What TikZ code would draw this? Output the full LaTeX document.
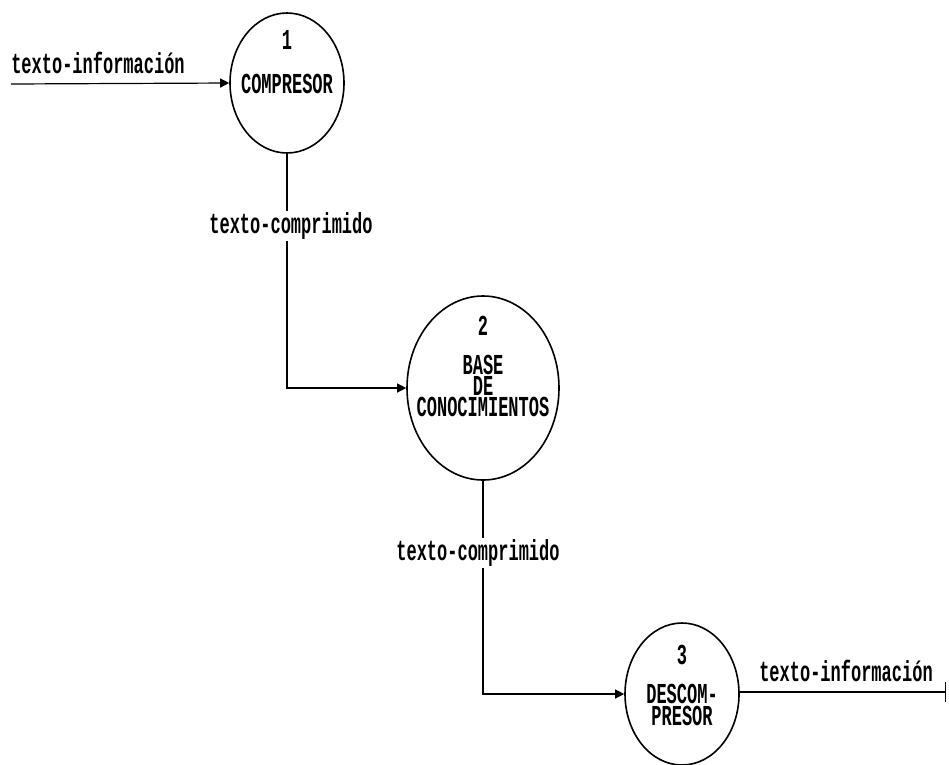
\documentclass[tikz,border=0pt]{standalone}
\usepackage{fontspec}
\setmainfont{Liberation Mono}
\usetikzlibrary{shapes.geometric,arrows.meta}
\tikzset{
  proc/.style={ellipse, draw, line width=1.6pt, inner sep=0pt},
  lab/.style={font=\bfseries\fontsize{17}{11.2}\selectfont, inner sep=1pt, align=center, transform shape},
  flow/.style={line width=1.2pt, -{Triangle[length=9pt,width=9pt]}},
}
% a text stretched vertically: #1 options, #2 name, #3 position, #4 text
\newcommand{\tlabel}[4][]{%
  \begin{scope}[shift={#3}, yscale=1.7]
    \node[lab,#1] (#2) at (0,0) {#4};
  \end{scope}}
\begin{document}
\begin{tikzpicture}[x=1pt,y=-1pt]
\useasboundingbox[fill=white] (0,0) rectangle (949,764);
% processes
\node[proc, minimum width=114pt, minimum height=140pt] (c1) at (287,83) {};
\node[proc, minimum width=152pt, minimum height=184pt] (c2) at (483,388) {};
\node[proc, minimum width=114pt, minimum height=142pt] (c3) at (682,694) {};
% process texts
\tlabel{n1}{(287,40)}{1}
\tlabel{t1}{(287,84)}{COMPRESOR}
\tlabel{n2}{(483,326)}{2}
\tlabel{t2}{(483,386)}{BASE\\DE\\CONOCIMIENTOS}
\tlabel{n3}{(682,655)}{3}
\tlabel{t3}{(682,705)}{DESCOM-\\PRESOR}
% endpoints
\coordinate (in) at (11,84);
\coordinate (out) at (946,692);
% flows
\draw[flow] (in) -- (c1.west);
\draw[flow] (c1.south) |- (c2.west);
\draw[flow] (c2.south) |- (c3.west);
\draw[line width=1.2pt, -{Bar[width=20pt,line width=1.4pt]}] (c3.east |- out) -- (out);
% flow labels
\tlabel{l1}{(98,63)}{texto-información}
\tlabel[fill=white]{l2}{(291,226)}{texto-comprimido}
\tlabel[fill=white]{l3}{(478,553)}{texto-comprimido}
\tlabel{l4}{(846,671)}{texto-información}
\end{tikzpicture}
\end{document}
